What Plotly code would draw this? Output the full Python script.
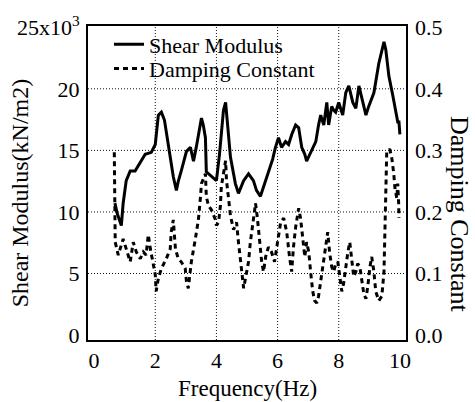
import plotly.graph_objects as go

# Shear modulus (x10^3 kN/m2) vs frequency (Hz)
freq_g = [0.68, 0.75, 0.89, 0.95, 1.05, 1.18, 1.34, 1.44, 1.54, 1.67, 1.87, 2.00, 2.10, 2.20, 2.30, 2.36,
          2.49, 2.59, 2.69, 2.75, 2.85, 3.02, 3.15, 3.25, 3.34, 3.44, 3.51, 3.57, 3.64, 3.67, 3.84, 4.00,
          4.10, 4.16, 4.23, 4.30, 4.39, 4.46, 4.62, 4.72, 4.89, 5.05, 5.21, 5.31, 5.44, 5.61, 5.70, 5.84,
          5.93, 6.03, 6.13, 6.26, 6.36, 6.46, 6.59, 6.69, 6.79, 6.89, 6.95, 7.11, 7.25, 7.34, 7.41, 7.51,
          7.61, 7.67, 7.77, 7.84, 7.90, 8.00, 8.13, 8.23, 8.33, 8.46, 8.56, 8.66, 8.79, 8.89, 8.98, 9.15,
          9.31, 9.44, 9.48, 9.54, 9.64, 9.77, 9.87, 9.93, 9.97, 10.0]
shear = [10.71, 9.92, 8.89, 10.71, 12.54, 13.33, 13.33, 13.73, 14.13, 14.68, 14.84, 15.48, 17.86, 18.10, 17.46, 16.51,
         14.44, 12.86, 11.75, 12.46, 13.33, 14.92, 15.24, 14.13, 15.24, 16.67, 17.62, 17.06, 16.03, 13.25, 12.86, 12.54,
         14.68, 16.27, 18.25, 18.89, 16.51, 14.44, 12.30, 11.51, 12.54, 13.10, 12.54, 11.75, 11.27, 12.54, 13.33, 14.29,
         15.24, 16.03, 15.24, 15.71, 15.48, 16.27, 17.06, 16.83, 15.24, 14.68, 14.13, 14.92, 15.71, 17.06, 17.86, 17.06,
         18.89, 17.06, 18.57, 18.25, 18.10, 18.89, 17.86, 19.68, 20.24, 18.89, 18.41, 20.24, 18.89, 17.86, 18.57, 19.68,
         22.06, 23.41, 23.81, 23.17, 21.03, 19.44, 18.10, 17.30, 17.30, 16.30]

# Damping constant vs frequency (Hz)
freq_d = [0.66, 0.69, 0.79, 0.89, 0.95, 1.05, 1.18, 1.28, 1.38, 1.51, 1.61, 1.70, 1.77, 1.84, 1.93, 2.00,
          2.03, 2.10, 2.20, 2.36, 2.49, 2.52, 2.59, 2.66, 2.75, 2.85, 2.98, 3.02, 3.08, 3.18, 3.31, 3.41,
          3.48, 3.51, 3.64, 3.67, 3.74, 3.84, 3.97, 4.00, 4.07, 4.13, 4.16, 4.23, 4.30, 4.33, 4.39, 4.46,
          4.56, 4.66, 4.72, 4.79, 4.82, 4.89, 4.95, 5.05, 5.11, 5.18, 5.28, 5.34, 5.41, 5.48, 5.54, 5.61,
          5.70, 5.80, 5.90, 6.00, 6.10, 6.20, 6.30, 6.39, 6.46, 6.52, 6.59, 6.69, 6.75, 6.82, 6.89, 6.95,
          7.02, 7.08, 7.15, 7.21, 7.28, 7.34, 7.41, 7.48, 7.57, 7.64, 7.70, 7.77, 7.84, 7.90, 7.97, 8.03,
          8.10, 8.16, 8.23, 8.30, 8.36, 8.43, 8.49, 8.56, 8.62, 8.69, 8.75, 8.82, 8.89, 8.95, 9.02, 9.08,
          9.15, 9.21, 9.31, 9.41, 9.48, 9.51, 9.54, 9.57, 9.67, 9.74, 9.80, 9.84, 9.90, 9.93, 9.96, 9.97]
damping = [0.297, 0.151, 0.130, 0.146, 0.156, 0.140, 0.119, 0.151, 0.135, 0.124, 0.135, 0.130, 0.163, 0.140, 0.119, 0.098,
           0.071, 0.092, 0.108, 0.124, 0.140, 0.167, 0.187, 0.140, 0.124, 0.119, 0.108, 0.087, 0.076, 0.119, 0.156, 0.187,
           0.225, 0.246, 0.262, 0.225, 0.210, 0.203, 0.187, 0.178, 0.183, 0.210, 0.241, 0.262, 0.283, 0.251, 0.225, 0.194,
           0.171, 0.183, 0.151, 0.119, 0.098, 0.076, 0.092, 0.119, 0.151, 0.175, 0.214, 0.190, 0.151, 0.119, 0.103, 0.127,
           0.143, 0.135, 0.119, 0.151, 0.183, 0.190, 0.167, 0.127, 0.103, 0.143, 0.175, 0.206, 0.190, 0.159, 0.127, 0.151,
           0.135, 0.103, 0.071, 0.056, 0.052, 0.063, 0.087, 0.111, 0.143, 0.167, 0.135, 0.111, 0.103, 0.116, 0.119, 0.095,
           0.071, 0.084, 0.111, 0.135, 0.151, 0.119, 0.095, 0.103, 0.116, 0.111, 0.087, 0.067, 0.059, 0.079, 0.111, 0.127,
           0.103, 0.071, 0.056, 0.063, 0.103, 0.183, 0.262, 0.297, 0.302, 0.286, 0.262, 0.238, 0.222, 0.246, 0.214, 0.190]

x_ticks = [0, 2, 4, 6, 8, 10]
x_grid = [2, 4, 6, 8]
g_ticks = [0, 5, 10, 15, 20, 25]
g_grid = [5, 10, 15, 20]
g_ticktext = ["0", "5", "10", "15", "20", "25x10<sup>3</sup>"]
d_ticks = [0.0, 0.1, 0.2, 0.3, 0.4, 0.5]
d_ticktext = ["0.0", "0.1", "0.2", "0.3", "0.4", "0.5"]

FONT = "Liberation Serif"
GRID = dict(color="#111", width=1, dash="1px,2px")

fig = go.Figure()
fig.add_trace(go.Scatter(x=freq_g, y=shear, mode="lines", name="Shear Modulus",
                         line=dict(color="black", width=3), yaxis="y", legend="legend"))
fig.add_trace(go.Scatter(x=freq_d, y=damping, mode="lines", name="Damping Constant",
                         line=dict(color="black", width=3, dash="5px,4px"), yaxis="y2",
                         legend="legend2"))

shapes = []
for gx in x_grid:
    shapes.append(dict(type="line", xref="x", yref="paper", x0=gx, x1=gx, y0=0, y1=1,
                       line=GRID, layer="below"))
for gy in g_grid:
    shapes.append(dict(type="line", xref="paper", yref="y", x0=0, x1=1, y0=gy, y1=gy,
                       line=GRID, layer="below"))

leg_common = dict(xanchor="left", yanchor="top", bgcolor="rgba(0,0,0,0)",
                  font=dict(family=FONT, size=22), itemwidth=30, borderwidth=0)

fig.update_layout(
    width=475, height=402,
    margin=dict(l=88, r=69, t=19, b=62),
    paper_bgcolor="white", plot_bgcolor="white",
    font=dict(family=FONT, size=22, color="black"),
    showlegend=True,
    legend=dict(x=0.066, y=1.008, **leg_common),
    legend2=dict(x=0.066, y=0.931, **leg_common),
    shapes=shapes,
    xaxis=dict(range=[-0.2, 10.2], tickvals=x_ticks, showgrid=False, zeroline=False,
               showline=True, linecolor="black", linewidth=2, mirror=True, ticks="",
               tickfont=dict(family=FONT, size=22)),
    yaxis=dict(range=[-0.4, 25.1], tickvals=g_ticks, ticktext=g_ticktext, showgrid=False,
               zeroline=False, showline=True, linecolor="black", linewidth=2, mirror=True,
               ticks="", tickfont=dict(family=FONT, size=22), ticklabelstandoff=2),
    yaxis2=dict(range=[-0.008, 0.502], tickvals=d_ticks, ticktext=d_ticktext, overlaying="y",
                side="right", showgrid=False, zeroline=False, showline=False, ticks="",
                tickfont=dict(family=FONT, size=22), ticklabelstandoff=8),
    annotations=[
        dict(text="Frequency(Hz)", xref="paper", yref="paper", x=0.5, y=-0.155,
             xanchor="center", yanchor="middle", showarrow=False,
             font=dict(family=FONT, size=23)),
        dict(text="Shear Modulus(kN/m2)", textangle=-90, xref="paper", yref="paper",
             x=-0.214, y=0.47, xanchor="center", yanchor="middle", showarrow=False,
             font=dict(family=FONT, size=24)),
        dict(text="Damping Constant", textangle=90, xref="paper", yref="paper",
             x=1.168, y=0.40, xanchor="center", yanchor="middle", showarrow=False,
             font=dict(family=FONT, size=26)),
    ],
)

fig.write_html("out.html")
